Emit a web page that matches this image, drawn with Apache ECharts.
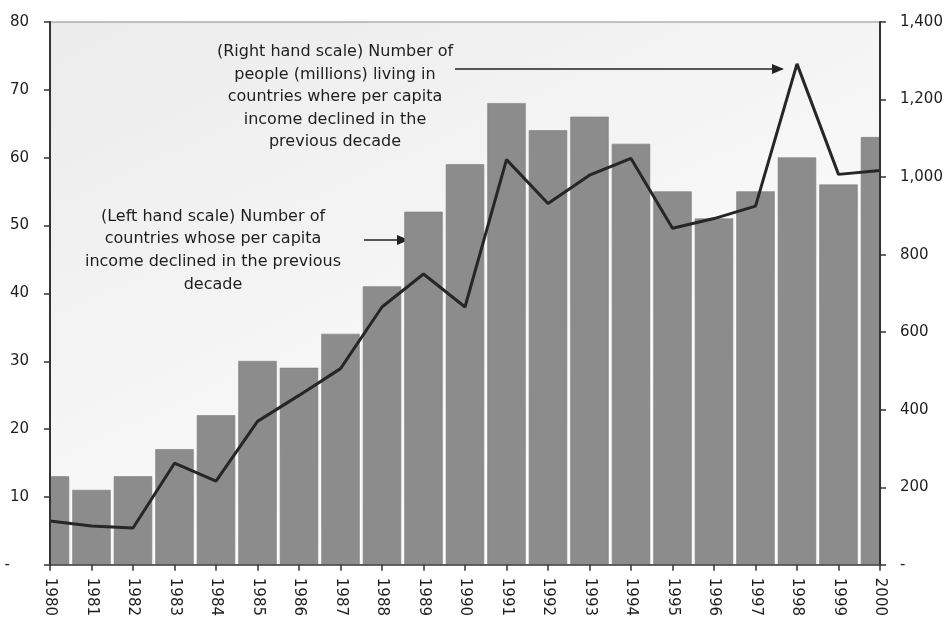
<!DOCTYPE html>
<html>
<head>
<meta charset="utf-8">
<script src="https://cdn.jsdelivr.net/npm/echarts@6/dist/echarts.min.js"></script>
<style>
html,body{margin:0;padding:0;background:#fff;}
#chart{width:948px;height:619px;}
</style>
</head>
<body>
<div id="chart"></div>
<script>
var years = ['1980','1981','1982','1983','1984','1985','1986','1987','1988','1989','1990','1991','1992','1993','1994','1995','1996','1997','1998','1999','2000'];
var countries = [13,11,13,17,22,30,29,34,41,52,59,68,64,66,62,55,51,55,60,56,63];
var people = [113,100,95,262,216,370,437,506,665,750,665,1045,932,1005,1048,868,893,925,1292,1007,1017];
var leftTicks = {min:0, max:80, interval:10};
var rightTicks = {min:0, max:1400, interval:200};
var noteRight = ['(Right hand scale) Number of','people (millions) living in','countries where per capita','income declined in the','previous decade'];
var noteLeft = ['(Left hand scale) Number of','countries whose per capita','income declined in the previous','decade'];

var chart = echarts.init(document.getElementById('chart'));
var FONT = 'DejaVu Sans';
var textColor = '#1e1e1e';

function fmtLeft(v){ return v === 0 ? '-    ' : String(v); }
function fmtRight(v){ return v === 0 ? '-' : v.toLocaleString('en-US'); }

function renderBar(params, api){
  var i = api.value(0);
  var v = api.value(1);
  var top = api.coord([i, v]);
  var base = api.coord([i, 0]);
  var band = api.size([1, 0])[0];
  var w = band * 0.91;
  return {
    type:'rect',
    shape:{x: top[0] - w/2, y: top[1], width: w, height: base[1] - top[1]},
    style:{fill:'#8c8c8c', stroke:'#7c7c7c', lineWidth:0.6}
  };
}

chart.setOption({
  animation:false,
  backgroundColor:'#ffffff',
  grid:{
    left:50, right:68, top:22, bottom:52,
    show:true,
    borderColor:'#8a8a8a', borderWidth:1,
    backgroundColor:{type:'linear', x:0, y:0, x2:0.3, y2:1,
      colorStops:[{offset:0,color:'#ebebeb'},{offset:1,color:'#fbfbfb'}]}
  },
  xAxis:{
    type:'category', data:years, boundaryGap:false, z:5,
    axisLine:{lineStyle:{color:'#444', width:1.5}},
    axisTick:{show:true, length:6, lineStyle:{color:'#333', width:1.5}},
    axisLabel:{rotate:-90, interval:0, margin:13, color:textColor, fontFamily:FONT, fontSize:15},
    splitLine:{show:false}
  },
  yAxis:[{
    type:'value', min:leftTicks.min, max:leftTicks.max, interval:leftTicks.interval,
    position:'left', z:5,
    axisLine:{show:true, lineStyle:{color:'#333', width:2}},
    axisTick:{show:true, length:6, lineStyle:{color:'#333', width:1.5}},
    axisLabel:{formatter:fmtLeft, margin:21, color:textColor, fontFamily:FONT, fontSize:15},
    splitLine:{show:false}
  },{
    type:'value', min:rightTicks.min, max:rightTicks.max, interval:rightTicks.interval,
    position:'right', z:5,
    axisLine:{show:true, lineStyle:{color:'#333', width:2}},
    axisTick:{show:true, length:6, lineStyle:{color:'#333', width:1.5}},
    axisLabel:{formatter:fmtRight, margin:20, color:textColor, fontFamily:FONT, fontSize:15},
    splitLine:{show:false}
  }],
  series:[{
    type:'custom', yAxisIndex:0, clip:true, renderItem:renderBar,
    encode:{x:0, y:1},
    data:countries.map(function(v, i){ return [i, v]; })
  },{
    type:'line', data:people, yAxisIndex:1, symbol:'none', clip:true, z:3,
    lineStyle:{color:'#262626', width:3}
  }],
  graphic:[
    {type:'text', x:335, y:41, style:{text:noteRight.join('\n'), fill:textColor, font:'16px "DejaVu Sans"', textAlign:'center', textVerticalAlign:'top', lineHeight:22.5}},
    {type:'text', x:213, y:205, style:{text:noteLeft.join('\n'), fill:textColor, font:'16px "DejaVu Sans"', textAlign:'center', textVerticalAlign:'top', lineHeight:22.7}},
    {type:'line', shape:{x1:455, y1:69, x2:774, y2:69}, style:{stroke:'#222', lineWidth:1.6}},
    {type:'polygon', shape:{points:[[784,69],[772,64],[772,74]]}, style:{fill:'#222'}},
    {type:'line', shape:{x1:364, y1:240, x2:399, y2:240}, style:{stroke:'#222', lineWidth:1.6}},
    {type:'polygon', shape:{points:[[409,240],[397,235],[397,245]]}, style:{fill:'#222'}}
  ]
});
</script>
</body>
</html>
